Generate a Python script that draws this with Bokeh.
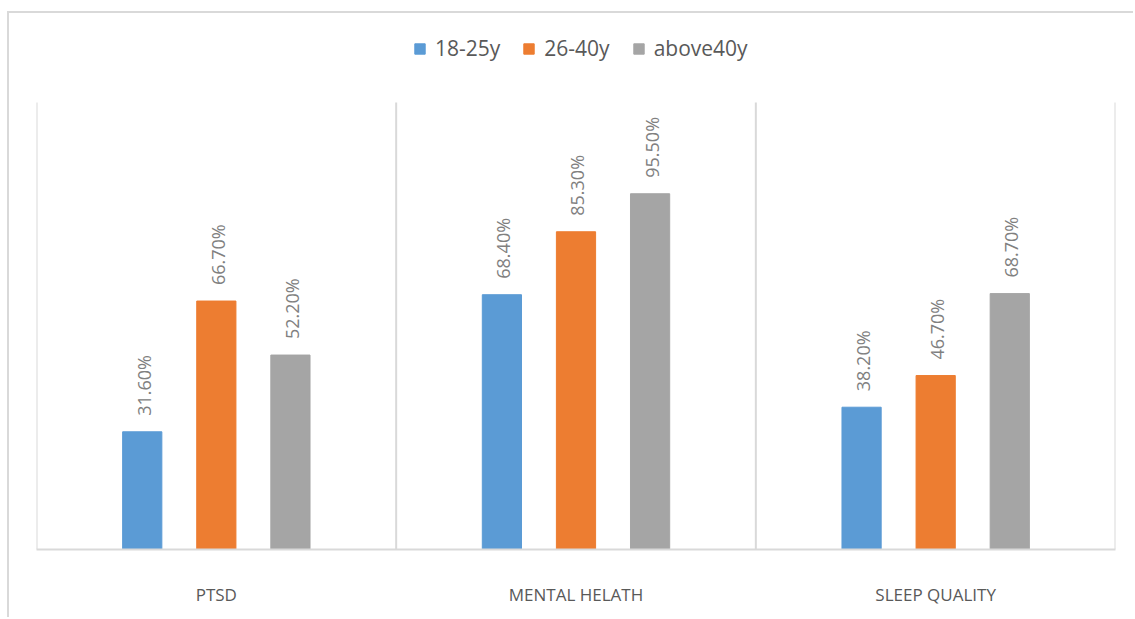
from math import pi
from bokeh.plotting import figure
from bokeh.models import ColumnDataSource, FactorRange, Legend, LegendItem
from bokeh.transform import dodge
from bokeh.core.properties import value
from bokeh.embed import file_html
from bokeh.resources import INLINE

categories = ["PTSD", "MENTAL HELATH", "SLEEP QUALITY"]
series_names = ["18-25y", "26-40y", "above40y"]
v_18_25 = [31.6, 68.4, 38.2]
v_26_40 = [66.7, 85.3, 46.7]
v_above40 = [52.2, 95.5, 68.7]
colors = ["#5B9BD5", "#ED7D31", "#A5A5A5"]
offsets = [-0.206, 0.0, 0.206]
bar_width = 0.109
y_axis_max = 120
# extra headroom above the value axis holds the legend
y_frame_max = y_axis_max * 529 / 447

p = figure(x_range=FactorRange(*categories, range_padding=0), y_range=(0, y_frame_max),
           width=1126, height=606, output_backend="svg", toolbar_location=None,
           min_border_left=27, min_border_right=20, min_border_top=7, min_border_bottom=70)
p.margin = (11, 0, 0, 7)
p.styles = {"border-left": "2px solid #d9d9d9", "border-top": "2px solid #d9d9d9"}
p.outline_line_color = None
p.xgrid.grid_line_color = None
p.ygrid.grid_line_color = None
p.yaxis.visible = False
p.background_fill_color = "white"
p.border_fill_color = "white"

xa = p.xaxis[0]
xa.axis_line_color = "#d9d9d9"
xa.axis_line_width = 2
xa.major_tick_line_color = None
xa.minor_tick_line_color = None
xa.major_label_text_font = "Open Sans"
xa.major_label_text_font_size = "17px"
xa.major_label_text_color = "#595959"
xa.major_label_standoff = 27

bounds = list(range(len(categories) + 1))
p.segment(x0=bounds, y0=[0] * len(bounds), x1=bounds, y1=[y_axis_max] * len(bounds),
          line_color="#d9d9d9", line_width=2)

items = []
for name, vals, col, off in zip(series_names, [v_18_25, v_26_40, v_above40], colors, offsets):
    src = ColumnDataSource(dict(cat=categories, v=vals, lab=[f"{x:.2f}%" for x in vals]))
    r = p.vbar(x=dodge("cat", off, range=p.x_range), top="v", width=bar_width, source=src,
               fill_color=col, line_color=col)
    p.text(x=dodge("cat", off + 0.004, range=p.x_range), y="v", text="lab", source=src,
           angle=pi / 2, text_align="left", text_baseline="middle", y_offset=-16,
           text_font=value("Open Sans"), text_font_size="18px", text_color="#808080")
    items.append(LegendItem(label=name, renderers=[r]))

legend = Legend(items=items, orientation="horizontal", location=(377, 487),
                glyph_width=13, glyph_height=13, label_text_font="Open Sans",
                label_text_font_size="21px", label_text_color="#595959",
                spacing=22, border_line_color=None, background_fill_alpha=0,
                padding=4, margin=0, label_standoff=9)
p.add_layout(legend, "center")

open("out.html", "w").write(file_html(p, INLINE))
